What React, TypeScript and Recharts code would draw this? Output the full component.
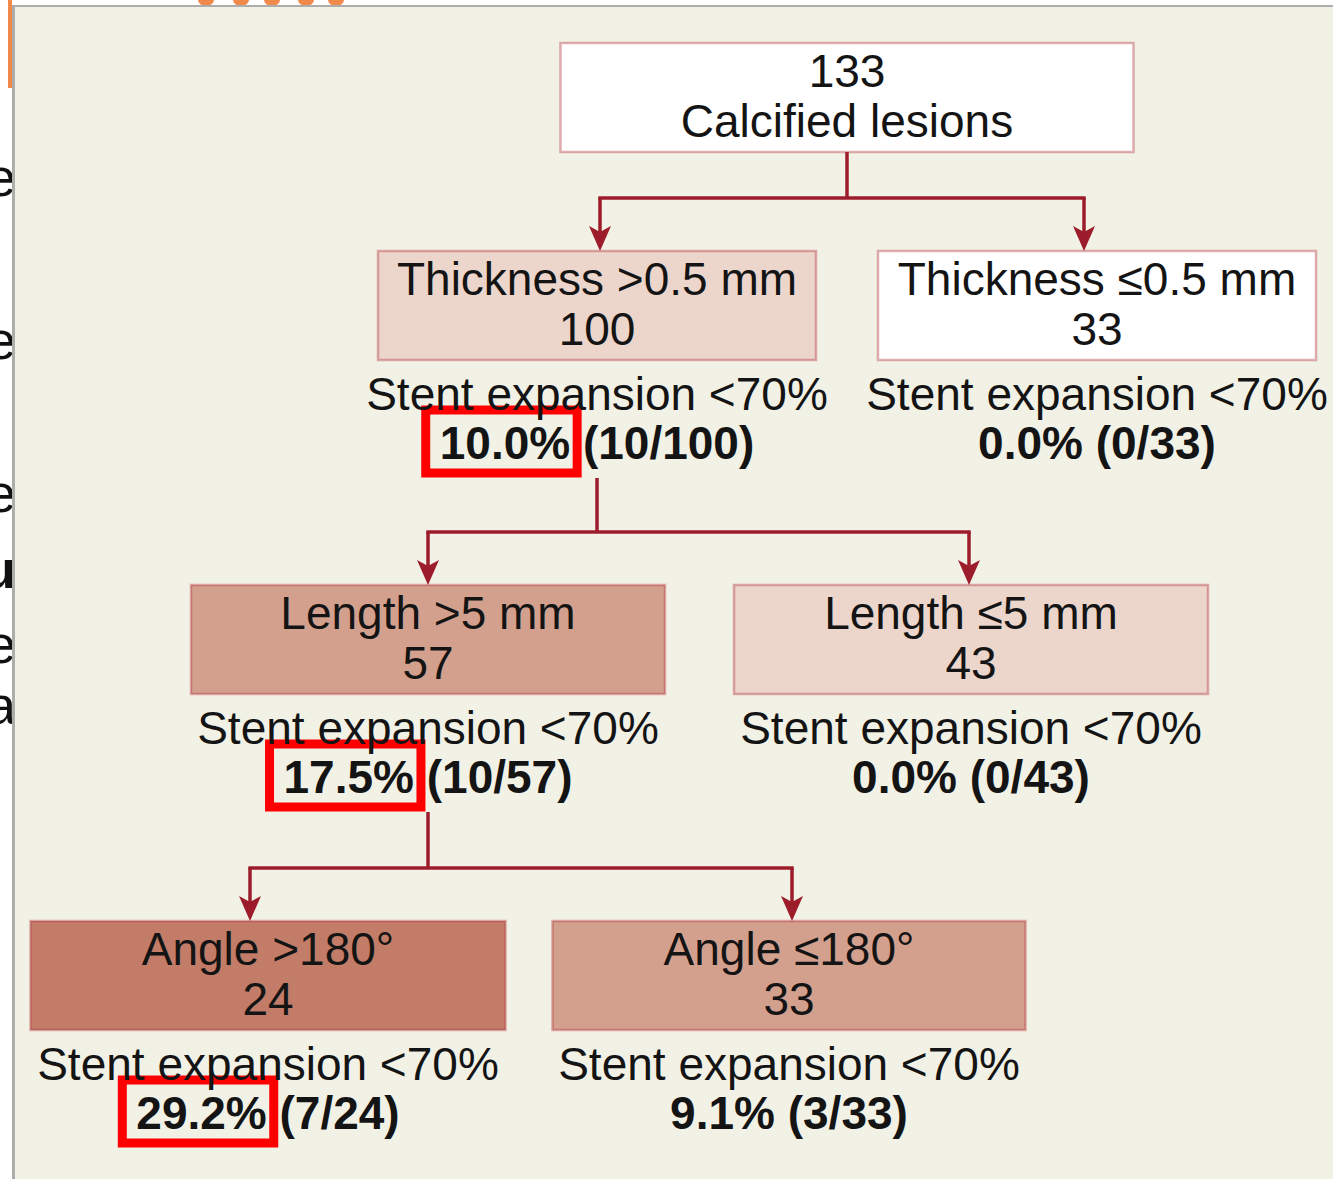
import React from "react";
import { ScatterChart, Scatter, XAxis, YAxis, ReferenceLine } from "recharts";

const W = 1333;
const H = 1179;

// tree data
const nodeLabels = [
  "Calcified lesions",
  "Thickness >0.5 mm",
  "Thickness \u22640.5 mm",
  "Length >5 mm",
  "Length \u22645 mm",
  "Angle >180\u00b0",
  "Angle \u2264180\u00b0",
];
const nodeCounts = [133, 100, 33, 57, 43, 24, 33];
const nodeEvents = [null, 10, 0, 10, 0, 7, 3];
const nodeParents = [null, 0, 0, 1, 1, 3, 3];
const nodeHighlight = [false, true, false, true, false, true, false];
const outcomeLabel = "Stent expansion <70%";

// layout (pixel-like data units)
const nodeLevel = [0, 1, 1, 2, 2, 3, 3];
const levelTop = [43, 251, 585, 921];
const nodeCenterX = [847, 597, 1097, 428, 971, 268, 789];
const nodeWidth = [573, 438, 438, 474, 474, 475, 473];
const arrowX = [847, 600, 1084, 428, 969, 250, 792];
const nodeFill = ["#ffffff", "#ecd6cc", "#ffffff", "#d4a08e", "#ecd6cc", "#c27c68", "#d4a08e"];

const BOX_H = 109;
const FS = 46;
const FONT = '"Liberation Sans", Arial, sans-serif';
const LINE = "#9c1c2b";

const ctx = typeof document !== "undefined" ? document.createElement("canvas").getContext("2d") : null;
function textWidth(s: string, bold: boolean) {
  if (!ctx) return s.length * FS * 0.55;
  ctx.font = `${bold ? "bold " : ""}${FS}px "Liberation Sans"`;
  return ctx.measureText(s).width;
}

const nodes = nodeLabels.map((label, i) => ({
  x: nodeCenterX[i],
  y: levelTop[nodeLevel[i]],
  label,
  count: nodeCounts[i],
  events: nodeEvents[i],
  level: nodeLevel[i],
  width: nodeWidth[i],
  fill: nodeFill[i],
  highlight: nodeHighlight[i],
}));

const arrows = nodes.filter((_, i) => nodeParents[i] !== null).map((n, k) => ({
  x: arrowX[k + 1],
  y: n.y,
}));

// connector segments built from the tree
const segments: { x1: number; y1: number; x2: number; y2: number }[] = [];
Array.from(new Set(nodeParents.filter((p) => p !== null) as number[])).forEach((p) => {
  const kids = nodeParents.map((q, i) => (q === p ? i : -1)).filter((i) => i >= 0);
  const lvl = nodeLevel[p];
  const stemTop = levelTop[lvl] + BOX_H + (lvl === 0 ? 0 : 118);
  const splitY = levelTop[lvl + 1] - 53;
  const xs = kids.map((k) => arrowX[k]);
  segments.push({ x1: nodeCenterX[p], y1: stemTop, x2: nodeCenterX[p], y2: splitY });
  segments.push({ x1: Math.min(...xs) - 1.7, y1: splitY, x2: Math.max(...xs) + 1.7, y2: splitY });
  kids.forEach((k) => segments.push({ x1: arrowX[k], y1: splitY, x2: arrowX[k], y2: levelTop[lvl + 1] - 16 }));
});

function NodeShape(props: any) {
  const { cx, cy, payload } = props;
  const w = payload.width;
  const bottom = cy + BOX_H;
  const lines = payload.level === 0 ? [String(payload.count), payload.label] : [payload.label, String(payload.count)];
  const hasOutcome = payload.events !== null && payload.events !== undefined;
  const pct = hasOutcome ? ((payload.events / payload.count) * 100).toFixed(1) + "%" : "";
  const full = `${pct} (${payload.events}/${payload.count})`;
  const boldY = bottom + 99;
  let hl = null;
  if (hasOutcome && payload.highlight) {
    const start = cx - textWidth(full, true) / 2;
    const end = start + textWidth(pct, true);
    hl = (
      <rect x={start - 14} y={boldY - 49} width={end - start + 21} height={63} fill="none" stroke="#ff0000" strokeWidth={9} />
    );
  }
  return (
    <g fontFamily={FONT} fontSize={FS} fill="#141414">
      <rect x={cx - w / 2} y={cy} width={w} height={BOX_H} fill={payload.fill} stroke="rgba(175,45,55,0.38)" strokeWidth={2.5} />
      <text x={cx} y={cy + 44} textAnchor="middle" fill="#141414">{lines[0]}</text>
      <text x={cx} y={cy + 94} textAnchor="middle" fill="#141414">{lines[1]}</text>
      {hl}
      {hasOutcome && (
        <>
          <text x={cx} y={bottom + 50} textAnchor="middle" fill="#141414">{outcomeLabel}</text>
          <text x={cx} y={boldY} textAnchor="middle" fontWeight={700} fill="#141414">{full}</text>
        </>
      )}
    </g>
  );
}

function ArrowShape(props: any) {
  const { cx, cy } = props;
  return <path d={`M${cx},${cy} L${cx - 11},${cy - 25} L${cx},${cy - 19} L${cx + 11},${cy - 25} Z`} fill={LINE} />;
}

// cut-off page text peeking out on the left
const edgeLetters = ["e", "e", "e", "u", "e", "a"];
const edgeBaselines = [196, 359, 512, 588, 663, 724];

export default function App() {
  return (
    <div style={{ position: "absolute", left: 0, top: 0, width: W, height: H, background: "#fff", overflow: "hidden" }}>
      <svg width={W} height={H} style={{ position: "absolute", left: 0, top: 0 }}>
        {edgeLetters.map((t, i) => (
          <text key={i} x={16} y={edgeBaselines[i]} textAnchor="end" fontFamily={FONT} fontSize={54} fontWeight={i === 3 ? 700 : 400} fill="#111">
            {t}
          </text>
        ))}
        <rect x={8} y={0} width={4} height={88} fill="#f08a4b" />
        {[206, 241, 272, 306, 336].map((x, i) => (
          <ellipse key={i} cx={x} cy={0} rx={8} ry={6} fill="#f08a4b" />
        ))}
      </svg>
      <div
        style={{
          position: "absolute",
          left: 12,
          top: 5,
          width: W - 12,
          height: H - 5,
          background: "#f2f1e6",
          borderLeft: "3px solid #adadad",
          borderTop: "2px solid #adadad",
        }}
      />
      <div style={{ position: "absolute", left: 0, top: 0 }}>
        <ScatterChart width={W} height={H} margin={{ top: 0, right: 0, bottom: 0, left: 0 }}>
          <XAxis type="number" dataKey="x" domain={[0, W]} hide />
          <YAxis type="number" dataKey="y" domain={[0, H]} reversed hide />
          {segments.map((s, i) => (
            <ReferenceLine
              key={i}
              segment={[{ x: s.x1, y: s.y1 }, { x: s.x2, y: s.y2 }]}
              stroke={LINE}
              strokeWidth={3.5}
              ifOverflow="visible"
            />
          ))}
          <Scatter data={arrows} shape={ArrowShape} isAnimationActive={false} />
          <Scatter data={nodes} shape={NodeShape} isAnimationActive={false} />
        </ScatterChart>
      </div>
    </div>
  );
}
